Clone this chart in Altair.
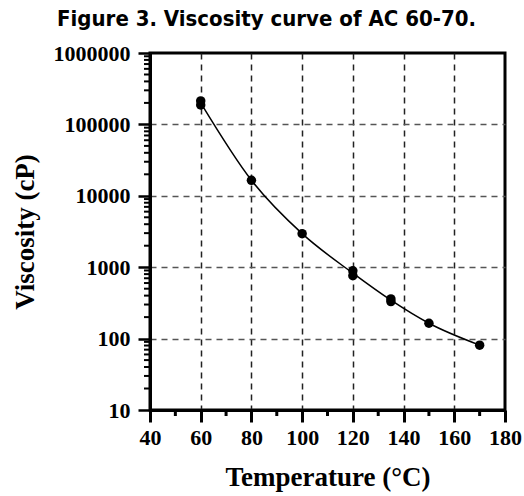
import altair as alt
import pandas as pd

temperature = [60, 60, 80, 100, 120, 120, 135, 135, 150, 170]
viscosity = [213000, 187000, 16500, 2950, 890, 760, 360, 330, 164, 81]

x_major = [40, 60, 80, 100, 120, 140, 160, 180]
x_minor = [50, 70, 90, 110, 130, 150, 170]
y_major = [10, 100, 1000, 10000, 100000, 1000000]
y_minor = [m * 10 ** e for e in range(1, 6) for m in range(2, 10)]

df = pd.DataFrame({"T": temperature, "V": viscosity})
df_xminor = pd.DataFrame({"T": x_minor})
df_yminor = pd.DataFrame({"V": y_minor})

PLOT_W, PLOT_H = 355, 357

x_inner = "datum.value > 40 && datum.value < 180"
y_inner = "datum.value > 10 && datum.value < 1000000"

xscale = alt.Scale(domain=[40, 180], nice=False, zero=False)
yscale = alt.Scale(type="log", domain=[10, 1000000], nice=False)

x_axis = alt.Axis(
    values=x_major,
    title="Temperature (°C)",
    tickSize=12,
    tickWidth=3,
    tickColor="black",
    domainColor="black",
    domainWidth=3,
    grid=True,
    gridColor="#222222",
    gridDash=[6, 5],
    gridWidth=1.5,
    gridOpacity={"condition": {"test": x_inner, "value": 1}, "value": 0},
    labelFont="Liberation Serif",
    labelFontWeight="bold",
    labelFontSize=22,
    labelColor="black",
    labelPadding=5,
    labelFlush=False,
    labelOverlap=False,
    titleFont="Liberation Serif",
    titleFontWeight="bold",
    titleFontSize=27,
    titleColor="black",
    titlePadding=16,
)

y_axis = alt.Axis(
    values=y_major,
    format="d",
    title="Viscosity (cP)",
    tickSize=12,
    tickWidth=2.5,
    tickColor="black",
    domainColor="black",
    domainWidth=3,
    grid=True,
    gridColor="#555555",
    gridDash=[6, 5],
    gridWidth=1.5,
    gridOpacity={"condition": {"test": y_inner, "value": 1}, "value": 0},
    labelFont="Liberation Serif",
    labelFontWeight="bold",
    labelFontSize=22,
    labelColor="black",
    labelPadding=8,
    labelFlush=False,
    labelOverlap=False,
    titleFont="Liberation Serif",
    titleFontWeight="bold",
    titleFontSize=27,
    titleColor="black",
    titlePadding=14,
)

line = alt.Chart(df).transform_aggregate(
    V="mean(V)", groupby=["T"]
).mark_line(color="black", strokeWidth=1.5, interpolate="monotone").encode(
    x=alt.X("T:Q", scale=xscale, axis=x_axis),
    y=alt.Y("V:Q", scale=yscale, axis=y_axis),
)

points = alt.Chart(df).mark_circle(color="black", opacity=1, size=90).encode(
    x=alt.X("T:Q", scale=xscale),
    y=alt.Y("V:Q", scale=yscale),
)

# minor ticks, positioned through the shared scales
yminor = alt.Chart(df_yminor).mark_rule(color="black", strokeWidth=2).encode(
    y=alt.Y("V:Q", scale=yscale),
    x=alt.value(-6),
    x2=alt.value(0),
)
xminor = alt.Chart(df_xminor).mark_rule(color="black", strokeWidth=3).encode(
    x=alt.X("T:Q", scale=xscale),
    y=alt.value(PLOT_H),
    y2=alt.value(PLOT_H + 6),
)

chart = alt.layer(line, points, yminor, xminor).properties(
    width=PLOT_W,
    height=PLOT_H,
    autosize=alt.AutoSizeParams(type="none"),
    padding={"left": 150, "top": 53, "right": 19, "bottom": 86},
    title=alt.TitleParams(
        "Figure 3. Viscosity curve of AC 60-70.",
        font="DejaVu Sans Condensed",
        fontSize=22,
        fontWeight="bold",
        color="black",
        anchor="middle",
        frame="group",
        dx=-61,
        offset=11,
    ),
).configure_view(stroke="black", strokeWidth=3)

chart.save("out.html", embed_options={"renderer": "svg", "actions": False})
